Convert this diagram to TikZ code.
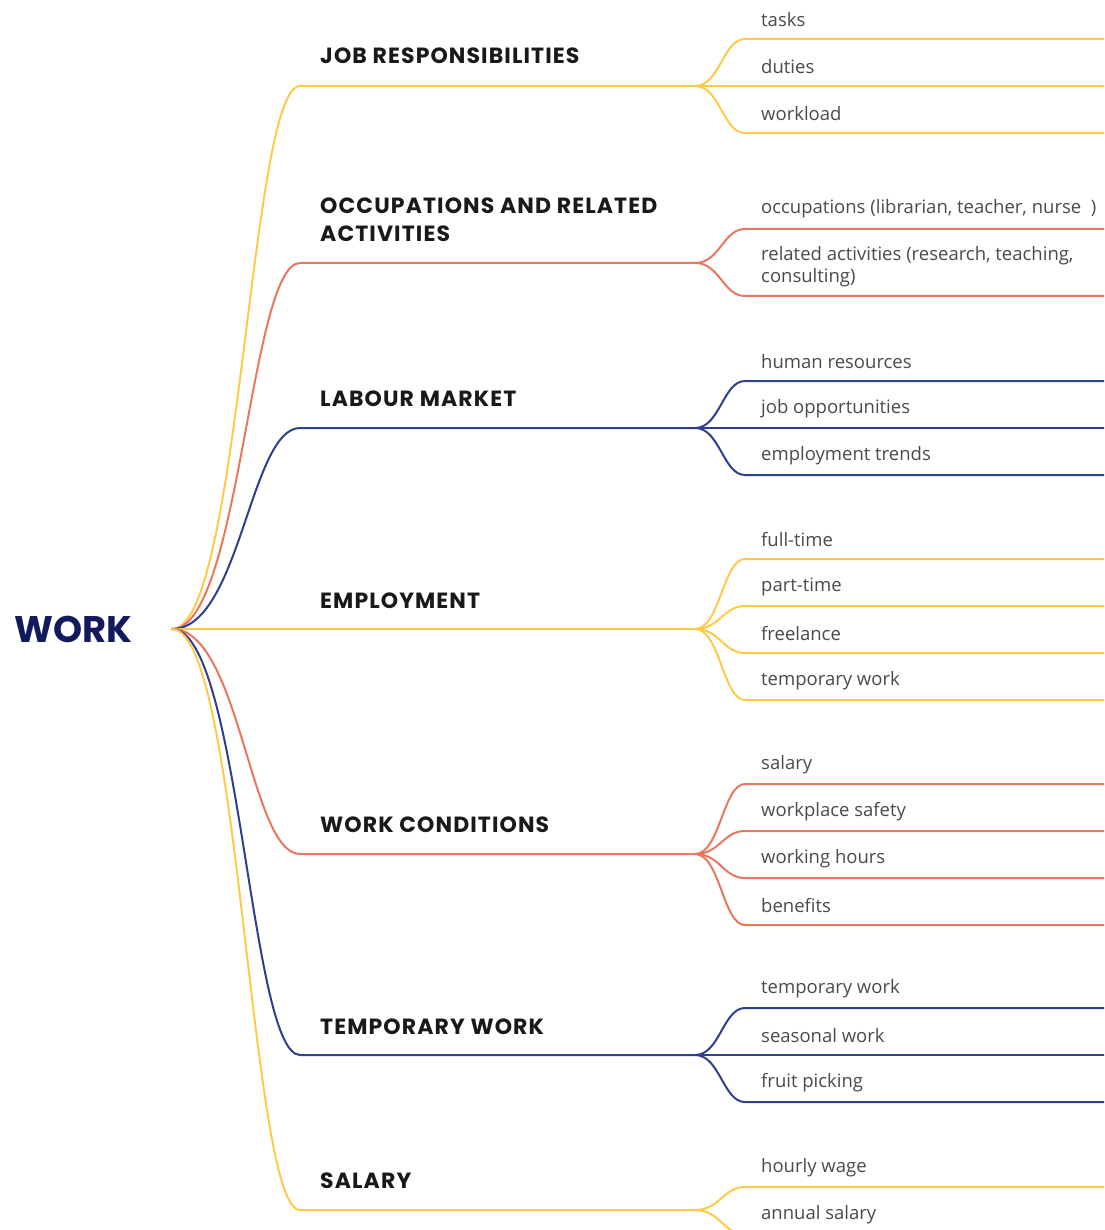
\documentclass[tikz,border=0pt]{standalone}
\usepackage{fontspec}
\setmainfont{Open Sans}
\newfontfamily\headfont{Poppins}[LetterSpace=5]
\newfontfamily\rootfont{Poppins}
\usepackage{tikz}

\definecolor{yel}{HTML}{FFC94A}
\definecolor{rd}{HTML}{E9765F}
\definecolor{blu}{HTML}{2F3F8E}
\definecolor{navy}{HTML}{111A5C}
\definecolor{leafgray}{HTML}{4A4A4A}

\tikzset{
  branch/.style={line width=2pt, line cap=round, #1},
  root/.style={anchor=west, inner sep=0pt, text=navy, font=\rootfont\bfseries\fontsize{37}{40}\selectfont},
  topic/.style={anchor=west, inner sep=0pt, align=left, text=black!90, font=\headfont\bfseries\fontsize{22}{28}\selectfont},
  leaf/.style={anchor=west, inner sep=0pt, align=left, text=leafgray, font=\fontsize{18.5}{22}\selectfont},
}

\begin{document}
\begin{tikzpicture}[x=1pt,y=-1pt]
  \useasboundingbox (0,0) rectangle (1104,1230);
  \clip (0,0) rectangle (1104,1230);

  \node[root] (work) at (14,629) {WORK};
  \coordinate (hub) at (172,629);

  % topics
  \node[topic] (job) at (320,56) {JOB RESPONSIBILITIES};
  \node[topic] (occ) at (320,220) {OCCUPATIONS AND RELATED\\ACTIVITIES};
  \node[topic] (lab) at (320,399) {LABOUR MARKET};
  \node[topic] (emp) at (320,601) {EMPLOYMENT};
  \node[topic] (cond) at (320,825) {WORK CONDITIONS};
  \node[topic] (temp) at (320,1027) {TEMPORARY WORK};
  \node[topic] (sal) at (320,1181) {SALARY};

  \coordinate (job-a) at (300,86);   \coordinate (job-b) at (695,86);
  \coordinate (occ-a) at (300,263);  \coordinate (occ-b) at (695,263);
  \coordinate (lab-a) at (300,428);  \coordinate (lab-b) at (695,428);
  \coordinate (emp-b) at (695,629);
  \coordinate (cond-a) at (300,854); \coordinate (cond-b) at (695,854);
  \coordinate (temp-a) at (300,1055);\coordinate (temp-b) at (695,1055);
  \coordinate (sal-a) at (300,1210); \coordinate (sal-b) at (695,1210);

  % main branches
  \draw[branch=yel] (hub) .. controls +(68,0) and +(-50,0) .. (job-a) -- (job-b);
  \draw[branch=rd] (hub) .. controls +(68,0) and +(-50,0) .. (occ-a) -- (occ-b);
  \draw[branch=blu] (hub) .. controls +(68,0) and +(-50,0) .. (lab-a) -- (lab-b);
  \draw[branch=yel] (hub) -- (emp-b);
  \draw[branch=rd] (hub) .. controls +(68,0) and +(-50,0) .. (cond-a) -- (cond-b);
  \draw[branch=blu] (hub) .. controls +(68,0) and +(-50,0) .. (temp-a) -- (temp-b);
  \draw[branch=yel] (hub) .. controls +(68,0) and +(-50,0) .. (sal-a) -- (sal-b);

  % leaves
  \foreach \y/\t [count=\i] in {39/tasks, 86/duties, 133/workload} {
    \draw[branch=yel] (job-b) .. controls +(25,0) and +(-22,0) .. (745,\y) -- (1110,\y);
    \node[leaf] (job-\i) at (761,\y-19) {\t};
  }
  \foreach \y in {229, 296} {
    \draw[branch=rd] (occ-b) .. controls +(25,0) and +(-22,0) .. (745,\y) -- (1110,\y);
  }
  \node[leaf] (occ-1) at (761,209) {occupations (librarian, teacher, nurse~~)};
  \node[leaf] (occ-2) at (761,267) {related activities (research, teaching,\\consulting)};
  \foreach \y/\t [count=\i] in {381/human resources, 428/job opportunities, 475/employment trends} {
    \draw[branch=blu] (lab-b) .. controls +(25,0) and +(-22,0) .. (745,\y) -- (1110,\y);
    \node[leaf] (lab-\i) at (761,\y-19) {\t};
  }
  \foreach \y/\t [count=\i] in {559/full-time, 606/part-time, 653/freelance, 700/temporary work} {
    \draw[branch=yel] (emp-b) .. controls +(25,0) and +(-22,0) .. (745,\y) -- (1110,\y);
    \node[leaf] (emp-\i) at (761,\y-19) {\t};
  }
  \foreach \y/\t [count=\i] in {784/salary, 831/workplace safety, 878/working hours, 925/benefits} {
    \draw[branch=rd] (cond-b) .. controls +(25,0) and +(-22,0) .. (745,\y) -- (1110,\y);
    \node[leaf] (cond-\i) at (761,\y-19) {\t};
  }
  \foreach \y/\t [count=\i] in {1008/temporary work, 1055/seasonal work, 1102/fruit picking} {
    \draw[branch=blu] (temp-b) .. controls +(25,0) and +(-22,0) .. (745,\y) -- (1110,\y);
    \node[leaf] (temp-\i) at (761,\y-19) {\t};
  }
  \foreach \y/\t [count=\i] in {1187/hourly wage, 1234/annual salary} {
    \draw[branch=yel] (sal-b) .. controls +(25,0) and +(-22,0) .. (745,\y) -- (1110,\y);
    \node[leaf] (sal-\i) at (761,\y-19) {\t};
  }
\end{tikzpicture}
\end{document}
